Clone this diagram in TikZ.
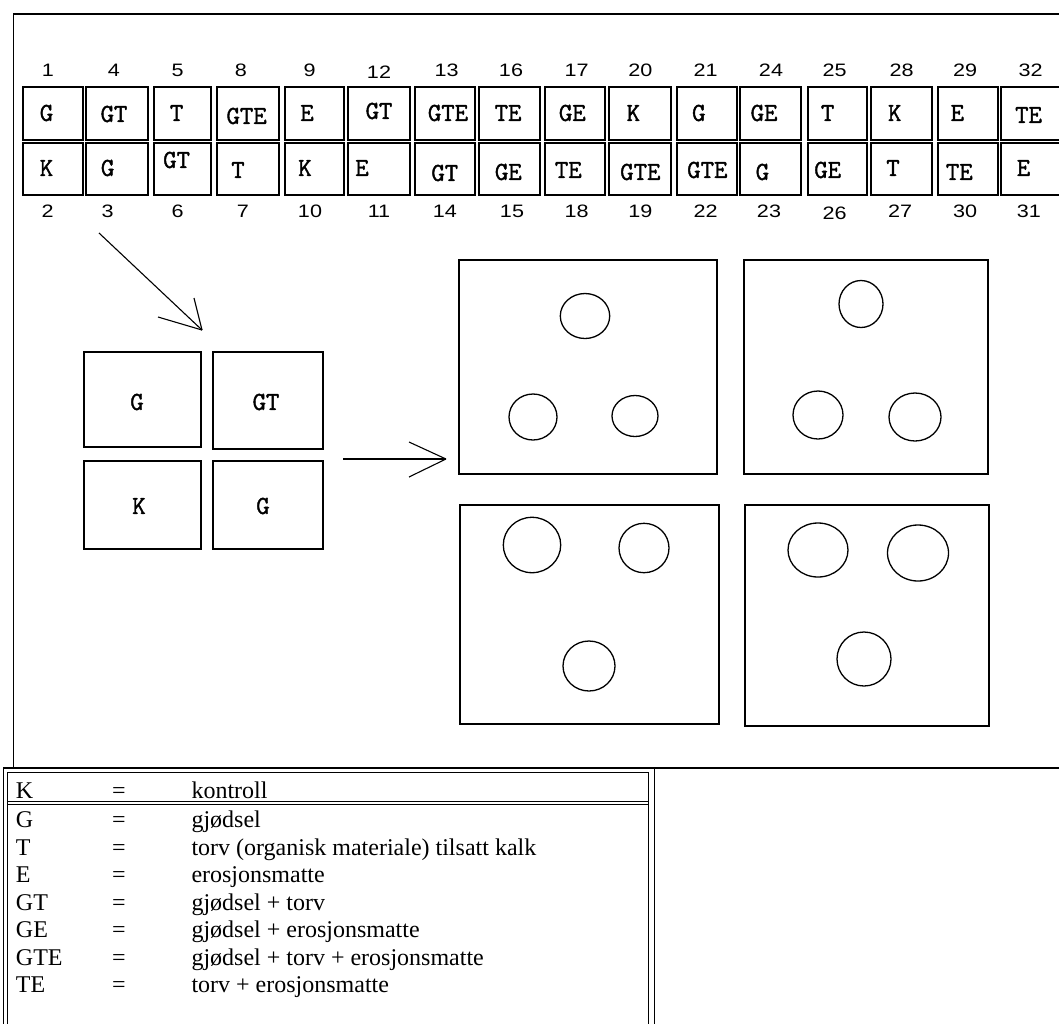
\documentclass[tikz,border=0pt]{standalone}
\usepackage{fontspec}
\usepackage{graphicx}
\setmainfont{Liberation Serif}
\newfontfamily\cellfont{Latin Modern Mono}[FakeBold=1.6]
\newfontfamily\numfont{Liberation Sans}
\newcommand{\celltxt}[1]{{\cellfont\fontsize{26}{26}\selectfont #1}}
\newcommand{\numtxt}[1]{\scalebox{1.2}[1]{\numfont\fontsize{18}{18}\selectfont #1}}
\newcommand{\legtxt}{\fontsize{24}{24}\selectfont}
\begin{document}
\begin{tikzpicture}[x=1pt,y=-1pt,
  cellbox/.style={draw, line width=2pt, inner sep=0pt, outer sep=0pt, anchor=north west},
  smallbox/.style={draw, line width=1.6pt, inner sep=0pt, outer sep=0pt, anchor=north west},
  plotbox/.style={draw, line width=1.8pt, inner sep=0pt, outer sep=0pt, anchor=north west},
  lab/.style={inner sep=0pt, outer sep=0pt},
  legentry/.style={inner sep=0pt, outer sep=0pt, anchor=base west},
  hole/.style={line width=1.3pt},
  arrowline/.style={line width=1.1pt},
  framestyle/.style={line width=1.6pt}]
\useasboundingbox (0,0) rectangle (1059,1023);
\clip (0,0) rectangle (1059,1023);
\fill[white] (0,0) rectangle (1059,1023);

% outer frame
\draw[framestyle] (13.5,14) rectangle (1070,768);

% plot row of 32 cells
\foreach \c/\L/\R/\tn/\tnx/\tny/\tl/\tlx/\tly/\bl/\blx/\bly/\bn/\bnx/\bny in {
 1/22.5/83/1/48/70/G/46.5/113/K/46.5/168/2/47.6/211.5,
 2/85.5/148/4/114/70/GT/114/114/G/107.6/168/3/107.6/211.5,
 3/154/211/5/177.6/70/T/176.6/113/GT/176.6/160/6/177.6/211.5,
 4/216.5/278.5/8/241/70/GTE/246.6/116/T/238/170/7/243/211.5,
 5/285/344/9/309.7/70/E/307/113/K/305/168/10/310/211.5,
 6/347.5/409.5/12/379/72.5/GT/379/111/E/362/168/11/379/211.5,
 7/414.5/474.5/13/446.6/70/GTE/448/113/GT/444.8/173/14/444.8/211.5,
 8/478.5/540/16/511/70/TE/508/113/GE/508.3/172/15/512/211.5,
 9/545/605/17/576.7/70/GE/572.3/113/TE/568.3/170/18/576.7/211.5,
 10/609/671/20/640.3/70/K/633.4/113/GTE/640.3/172/19/640.3/211.5,
 11/676.5/736.5/21/705.6/70/G/698.8/113/GTE/707.3/170/22/705.6/211.5,
 12/740/801/24/771/70/GE/764/113/G/762.4/172/23/769/211.5,
 13/807.5/867/25/834.5/70/T/827.7/113/GE/827.7/170/26/834.5/213.5,
 14/871/932/28/901.6/70/K/894.7/113/T/893/168/27/900/211.5,
 15/938/998/29/965/70/E/957.3/113/TE/959.3/172/30/965/211.5,
 16/1001/1062/32/1030.5/70/TE/1028.5/115/E/1023.5/168/31/1028.8/211.5}
{
  \node[cellbox, minimum width={(\R-\L)*1pt}, minimum height=53pt] (top\c) at (\L,87) {};
  \node[cellbox, minimum width={(\R-\L)*1pt}, minimum height=52pt] (bot\c) at (\L,143) {};
  \node[lab] (toplab\c) at (\tlx,\tly) {\celltxt{\tl}};
  \node[lab] (botlab\c) at (\blx,\bly) {\celltxt{\bl}};
  \node[lab] (topnum\c) at (\tnx,\tny) {\numtxt{\tn}};
  \node[lab] (botnum\c) at (\bnx,\bny) {\numtxt{\bn}};
}

% enlarged plot (2x2)
\node[smallbox, minimum width=117pt, minimum height=95pt] (sG) at (84,352) {};
\node[smallbox, minimum width=110pt, minimum height=97pt] (sGT) at (213,352) {};
\node[smallbox, minimum width=117pt, minimum height=88pt] (sK) at (84,461) {};
\node[smallbox, minimum width=110pt, minimum height=88pt] (sG2) at (213,461) {};
\node[lab] (sGl) at (137,402) {\celltxt{G}};
\node[lab] (sGTl) at (266,402) {\celltxt{GT}};
\node[lab] (sKl) at (139,506) {\celltxt{K}};
\node[lab] (sG2l) at (263,506) {\celltxt{G}};

% arrows
\coordinate (dA) at (99,233);
\coordinate (dB) at (202,330);
\draw[arrowline] (dA) -- (dB);
\draw[arrowline] (dB) -- ++(-44,-13);
\draw[arrowline] (dB) -- ++(-8,-32);
\coordinate (hA) at (343,459);
\coordinate (hB) at (446,459);
\draw[arrowline] (hA) -- (hB);
\draw[arrowline] (hB) -- ++(-37,-17);
\draw[arrowline] (hB) -- ++(-37,18);

% sub-plots with circles
\node[plotbox, minimum width=258pt, minimum height=214pt] (pTL) at (459,260) {};
\node[plotbox, minimum width=244pt, minimum height=214pt] (pTR) at (744,260) {};
\node[plotbox, minimum width=259pt, minimum height=219pt] (pBL) at (460,505) {};
\node[plotbox, minimum width=244pt, minimum height=221pt] (pBR) at (745,505) {};

\draw[hole] (585,316) ellipse [x radius=24.7pt, y radius=22.5pt];
\draw[hole] (533,417) ellipse [x radius=24pt, y radius=23pt];
\draw[hole] (635,416) ellipse [x radius=23pt, y radius=20.5pt];

\draw[hole] (861,304) ellipse [x radius=22pt, y radius=23.5pt];
\draw[hole] (818,415) ellipse [x radius=25pt, y radius=24pt];
\draw[hole] (915,417) ellipse [x radius=26pt, y radius=24pt];

\draw[hole] (532,545) ellipse [x radius=28.7pt, y radius=27.7pt];
\draw[hole] (644,548) ellipse [x radius=25pt, y radius=24.7pt];
\draw[hole] (589,666) ellipse [x radius=26pt, y radius=25pt];

\draw[hole] (818,550) ellipse [x radius=30pt, y radius=27pt];
\draw[hole] (918,553) ellipse [x radius=30.5pt, y radius=28pt];
\draw[hole] (864,659) ellipse [x radius=27pt, y radius=27pt];

% legend
\fill[white] (3.4,768) rectangle (654.5,1030);
\draw[line width=1.5pt] (3.4,768) rectangle (654.5,1030);
\draw[line width=1pt] (7.6,772) rectangle (648,1030);
\draw[line width=1pt] (7.6,801) -- (648,801);
\draw[line width=1pt] (7.6,804) -- (648,804);
\foreach \a/\d/\yy [count=\i] in {
  K/kontroll/798.3,
  G/gjødsel/827.3,
  T/{torv (organisk materiale) tilsatt kalk}/855,
  E/erosjonsmatte/882.7,
  GT/{gjødsel + torv}/910,
  GE/{gjødsel + erosjonsmatte}/937.7,
  GTE/{gjødsel + torv + erosjonsmatte}/965,
  TE/{torv + erosjonsmatte}/992.7}
{
  \node[legentry] (legab\i) at (16,\yy) {\legtxt \a};
  \node[legentry] (legeq\i) at (112,\yy) {\legtxt =};
  \node[legentry] (legde\i) at (191.5,\yy) {\legtxt \d};
}
\end{tikzpicture}
\end{document}
